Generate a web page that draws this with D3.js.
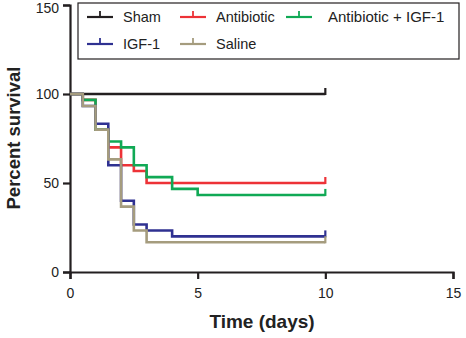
<!DOCTYPE html>
<html>
<head>
<meta charset="utf-8">
<script src="https://d3js.org/d3.v7.min.js"></script>
<style>
  body { margin: 0; background: #fff; }
  text { font-family: "Liberation Sans", Arial, sans-serif; fill: #222; }
</style>
</head>
<body>
<script>
"use strict";
// survival step data (day, percent)
const sham       = [[0, 100], [10, 100]];
const antibiotic = [[0, 100], [0.5, 96.7], [1, 80], [1.5, 70], [2, 60], [2.5, 56.7], [3, 50], [10, 50]];
const antiIgf    = [[0, 100], [0.5, 96.7], [1, 80], [1.5, 73.3], [2, 70], [2.5, 60], [3, 53.3], [4, 46.7], [5, 43.3], [10, 43.3]];
const igf        = [[0, 100], [0.5, 93.3], [1, 83.3], [1.5, 60], [2, 40], [2.5, 26.7], [3, 23.3], [4, 20], [10, 20]];
const saline     = [[0, 100], [0.5, 93.3], [1, 80], [1.5, 63.3], [2, 36.7], [2.5, 23.3], [3, 16.7], [10, 16.7]];

const seriesNames = ["Sham", "Antibiotic", "Antibiotic + IGF-1", "IGF-1", "Saline"];
const xTicks = [0, 5, 10, 15];
const yTicks = [0, 50, 100, 150];

const colors = {
    "Sham": "#231f20",
    "Antibiotic": "#ed3237",
    "Antibiotic + IGF-1": "#10a955",
    "IGF-1": "#2f3191",
    "Saline": "#a59c7e"
};

const series = [
    { name: "Sham", values: sham },
    { name: "Antibiotic", values: antibiotic },
    { name: "Antibiotic + IGF-1", values: antiIgf },
    { name: "IGF-1", values: igf },
    { name: "Saline", values: saline }
];

const svg = d3.select("body").append("svg")
    .attr("width", 466)
    .attr("height", 338);

const x = d3.scaleLinear().domain([0, 15]).range([70, 453]);
const y = d3.scaleLinear().domain([0, 150]).range([272, 5]);

// axes
const xAxis = svg.append("g")
    .attr("transform", "translate(0,272)")
    .call(d3.axisBottom(x).tickValues(xTicks).tickSizeOuter(0).tickSize(7).tickPadding(9));
const yAxis = svg.append("g")
    .attr("transform", "translate(70,0)")
    .call(d3.axisLeft(y).tickValues(yTicks).tickSizeOuter(0).tickSize(7).tickPadding(4));

[xAxis, yAxis].forEach(g => {
    g.select(".domain").attr("stroke", "#231f20").attr("stroke-width", 2.2);
    g.selectAll(".tick line").attr("stroke", "#231f20").attr("stroke-width", 2.2);
    g.selectAll(".tick text")
        .style("font-family", "'Liberation Sans', Arial, sans-serif")
        .style("font-size", "14px")
        .attr("fill", "#231f20");
});
// keep the top label inside the picture
yAxis.selectAll(".tick").filter(d => d === 150).select("text").attr("dy", "0.5em");

// step lines
const line = d3.line()
    .x(d => x(d[0]))
    .y(d => y(d[1]))
    .curve(d3.curveStepAfter);

series.forEach(s => {
    svg.append("path")
        .datum(s.values)
        .attr("fill", "none")
        .attr("stroke", colors[s.name])
        .attr("stroke-width", 2.6)
        .attr("d", line);
    // censor tick at end
    const last = s.values[s.values.length - 1];
    svg.append("line")
        .attr("x1", x(last[0])).attr("x2", x(last[0]))
        .attr("y1", y(last[1]) + 1).attr("y2", y(last[1]) - 6)
        .attr("stroke", colors[s.name])
        .attr("stroke-width", 2.2);
});

// legend
svg.append("rect")
    .attr("x", 78).attr("y", 3)
    .attr("width", 381).attr("height", 56)
    .attr("fill", "#fff")
    .attr("stroke", "#231f20")
    .attr("stroke-width", 1.2);

const legendPos = {
    "Sham": [87, 17],
    "Antibiotic": [180, 17],
    "Antibiotic + IGF-1": [286, 17],
    "IGF-1": [87, 44],
    "Saline": [180, 44]
};

seriesNames.forEach(name => {
    const p = legendPos[name];
    const g = svg.append("g").attr("transform", "translate(" + p[0] + "," + p[1] + ")");
    g.append("line")
        .attr("x1", 0).attr("x2", 26).attr("y1", 0).attr("y2", 0)
        .attr("stroke", colors[name]).attr("stroke-width", 2.2);
    g.append("line")
        .attr("x1", 13).attr("x2", 13).attr("y1", 0).attr("y2", -6)
        .attr("stroke", colors[name]).attr("stroke-width", 1.8);
    g.append("text")
        .attr("x", name === "Antibiotic + IGF-1" ? 42 : 36)
        .attr("y", 5)
        .style("font-size", name === "Antibiotic + IGF-1" ? "15px" : "14.5px")
        .text(name);
});

// axis titles
svg.append("text")
    .attr("x", 262).attr("y", 328)
    .attr("text-anchor", "middle")
    .style("font-size", "19px")
    .style("font-weight", "bold")
    .text("Time (days)");

svg.append("text")
    .attr("transform", "translate(20,138)rotate(-90)")
    .attr("text-anchor", "middle")
    .style("font-size", "18.5px")
    .style("font-weight", "bold")
    .text("Percent survival");
</script>
</body>
</html>
